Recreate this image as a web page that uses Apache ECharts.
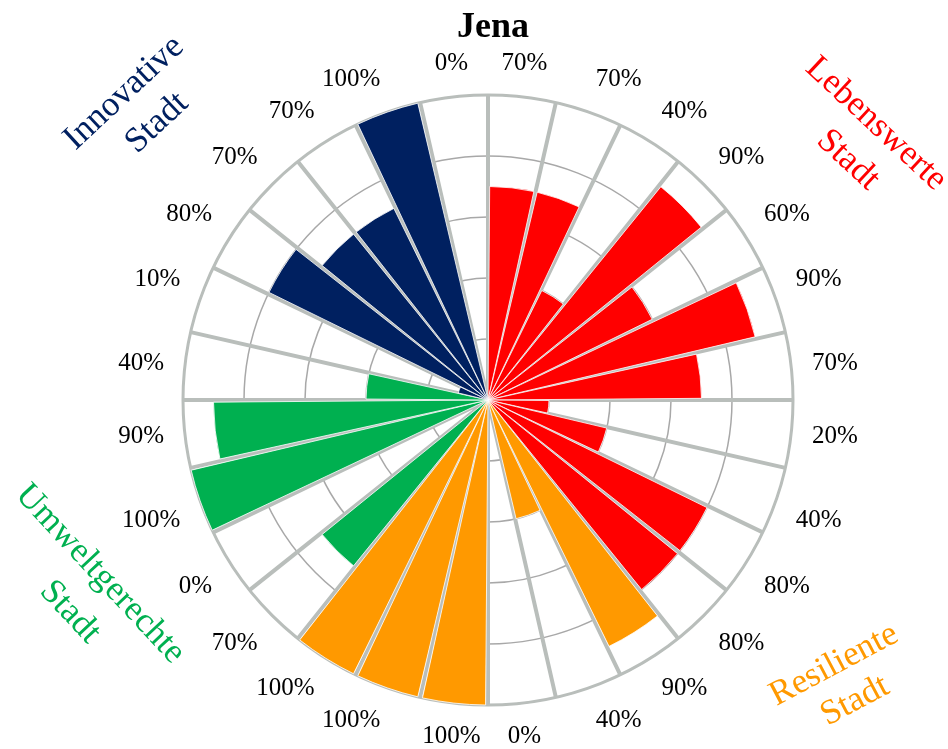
<!DOCTYPE html>
<html>
<head>
<meta charset="utf-8">
<script src="https://cdn.jsdelivr.net/npm/echarts@6/dist/echarts.min.js"></script>
<style>
    html, body { margin: 0; padding: 0; background: #fff; }
    #chart { width: 948px; height: 749px; }
</style>
</head>
<body>
<div id="chart"></div>
<script>
const tickLabels = ['70%', '70%', '40%', '90%', '60%', '90%', '70%', '20%', '40%', '80%', '80%', '90%', '40%', '0%',
    '100%', '100%', '100%', '70%', '0%', '100%', '90%', '40%', '10%', '80%', '70%', '70%', '100%', '0%'];
const values = [0.7, 0.7, 0.4, 0.9, 0.6, 0.9, 0.7, 0.2, 0.4, 0.8, 0.8, 0.9, 0.4, 0,
    1, 1, 1, 0.7, 0, 1, 0.9, 0.4, 0.1, 0.8, 0.7, 0.7, 1, 0];
const groups = ['L', 'L', 'L', 'L', 'L', 'L', 'L', 'L', 'L', 'L', 'L', 'R', 'R', 'R',
    'R', 'R', 'R', 'U', 'U', 'U', 'U', 'U', 'I', 'I', 'I', 'I', 'I', 'I'];
const groupColors = {L: '#FF0000', R: '#FF9900', U: '#00B050', I: '#002060'};

const gridGray = '#B9BEBB';
const serif = '"Liberation Serif", "Times New Roman", serif';

const chart = echarts.init(document.getElementById('chart'));

function groupText(text, x, y, deg, color) {
    return {
        type: 'text',
        x: x,
        y: y,
        rotation: deg * Math.PI / 180,
        style: {
            text: text,
            fill: color,
            font: '35px ' + serif,
            align: 'center',
            verticalAlign: 'middle'
        }
    };
}

const option = {
    backgroundColor: '#fff',
    title: {
        text: 'Jena',
        left: 452,
        top: 5,
        textStyle: {fontFamily: serif, fontSize: 36, fontWeight: 'bold', color: '#000'}
    },
    polar: {
        center: [488, 400],
        radius: 305
    },
    angleAxis: {
        type: 'category',
        data: tickLabels,
        startAngle: 90,
        clockwise: true,
        axisLine: {lineStyle: {color: gridGray, width: 3}},
        axisTick: {show: false, interval: 0},
        axisLabel: {interval: 0, fontFamily: serif, fontSize: 25, color: '#000', margin: 21},
        splitLine: {show: true, interval: 0, lineStyle: {color: gridGray, width: 4}}
    },
    radiusAxis: {
        min: 0,
        max: 1,
        interval: 0.2,
        axisLine: {show: false},
        axisTick: {show: false},
        axisLabel: {show: false},
        splitLine: {show: true, lineStyle: {color: '#A8A8A8', width: 1.5}}
    },
    series: [{
        type: 'bar',
        coordinateSystem: 'polar',
        barCategoryGap: '7%',
        itemStyle: {borderColor: '#fff', borderWidth: 0.8},
        data: values.map(function (v, i) {
            return {value: v, itemStyle: {color: groupColors[groups[i]]}};
        })
    }],
    graphic: [
        groupText('Innovative', 124, 93, 43, '#002060'),
        groupText('Stadt', 157, 123, 43, '#002060'),
        groupText('Lebenswerte', 876, 124, -43, '#FF0000'),
        groupText('Stadt', 848, 160, -43, '#FF0000'),
        groupText('Umweltgerechte', 100, 574, -47, '#00B050'),
        groupText('Stadt', 70, 612, -47, '#00B050'),
        groupText('Resiliente', 834, 665, 28, '#FF9900'),
        groupText('Stadt', 855, 701, 28, '#FF9900')
    ]
};
chart.setOption(option);
</script>
</body>
</html>
